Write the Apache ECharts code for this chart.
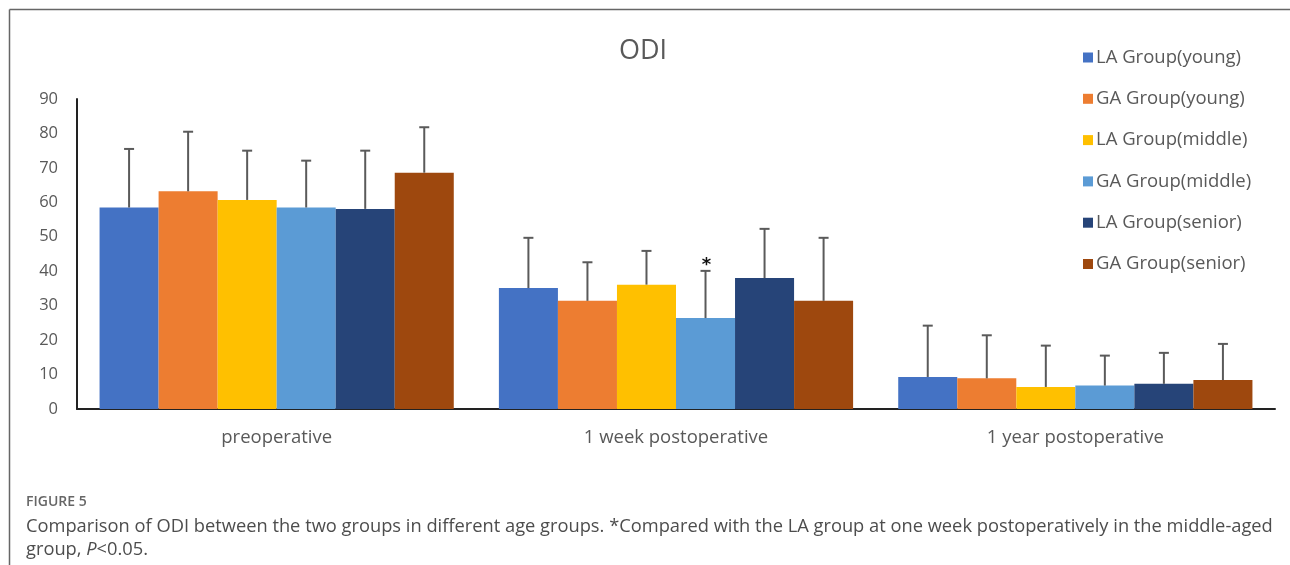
<!DOCTYPE html>
<html>
<head>
<meta charset="utf-8">
<script src="https://cdn.jsdelivr.net/npm/echarts@6/dist/echarts.min.js"></script>
<style>
html,body{margin:0;padding:0;background:#fff;}
#chart{width:1290px;height:565px;}
</style>
</head>
<body>
<div id="chart"></div>
<script>
const categories = ['preoperative', '1 week postoperative', '1 year postoperative'];
const seriesNames = ['LA Group(young)', 'GA Group(young)', 'LA Group(middle)', 'GA Group(middle)', 'LA Group(senior)', 'GA Group(senior)'];
const seriesColors = ['#4472C4', '#ED7D31', '#FFC000', '#5B9BD5', '#264478', '#9E480E'];
// mean ODI per series, for each category
const laYoung   = [58.5, 35.1, 9.3];
const gaYoung   = [63.2, 31.4, 8.9];
const laMiddle  = [60.7, 36.1, 6.4];
const gaMiddle  = [58.5, 26.4, 6.8];
const laSenior  = [58.1, 38.0, 7.3];
const gaSenior  = [68.6, 31.4, 8.4];
// standard deviations (upper error bars)
const laYoungSD  = [17.0, 14.6, 14.9];
const gaYoungSD  = [17.3, 11.2, 12.5];
const laMiddleSD = [14.3, 9.8, 12.0];
const gaMiddleSD = [13.6, 13.7, 8.7];
const laSeniorSD = [16.9, 14.3, 9.0];
const gaSeniorSD = [13.2, 18.3, 10.5];
// significance marker: series index, category index, text
const sigSeries = [3];
const sigCategory = [1];
const sigText = ['*'];
const yTicks = [0, 10, 20, 30, 40, 50, 60, 70, 80, 90];

const means = [laYoung, gaYoung, laMiddle, gaMiddle, laSenior, gaSenior];
const sds = [laYoungSD, gaYoungSD, laMiddleSD, gaMiddleSD, laSeniorSD, gaSeniorSD];

const GAP = 0.113;
const NS = seriesNames.length;

const errData = [];
for (let s = 0; s < NS; s++) {
  for (let c = 0; c < categories.length; c++) {
    let mark = '';
    for (let k = 0; k < sigSeries.length; k++) {
      if (sigSeries[k] === s && sigCategory[k] === c) mark = sigText[k];
    }
    errData.push({ value: [c, s, means[s][c], sds[s][c]], mark: mark });
  }
}

const chart = echarts.init(document.getElementById('chart'), null, { renderer: 'canvas' });

const barSeries = seriesNames.map((name, i) => ({
  name: name,
  type: 'bar',
  data: means[i],
  barGap: '0%',
  barCategoryGap: (GAP * 100) + '%',
  itemStyle: { color: seriesColors[i] },
  emphasis: { disabled: true },
  z: 2
}));

const errSeries = {
  type: 'custom',
  name: 'err',
  data: errData,
  z: 5,
  silent: true,
  renderItem: function (params, api) {
    const c = api.value(0), s = api.value(1), m = api.value(2), e = api.value(3);
    const band = api.size([1, 0])[0];
    const bw = band * (1 - GAP) / NS;
    const cx = api.coord([c, 0])[0] - band * (1 - GAP) / 2 + (s + 0.5) * bw;
    const yb = api.coord([c, m])[1];
    const yt = api.coord([c, m + e])[1];
    const st = { stroke: '#5a5a5a', lineWidth: 2 };
    const children = [
      { type: 'line', shape: { x1: cx, y1: yb, x2: cx, y2: yt }, style: st },
      { type: 'line', shape: { x1: cx - 5, y1: yt, x2: cx + 5, y2: yt }, style: st }
    ];
    const mark = errData[params.dataIndex].mark;
    if (mark) {
      children.push({
        type: 'text',
        style: { text: mark, x: cx + 1, y: yt + 3, align: 'center', verticalAlign: 'bottom',
                 font: 'bold 18px "DejaVu Sans"', fill: '#111' }
      });
    }
    return { type: 'group', children: children };
  }
};

chart.setOption({
  animation: false,
  backgroundColor: '#fff',
  title: {
    text: 'ODI',
    left: 638,
    top: 33,
    textAlign: 'center',
    textStyle: { fontFamily: 'Open Sans', fontSize: 27, fontWeight: 'normal', color: '#595959' }
  },
  legend: {
    data: seriesNames,
    orient: 'vertical',
    left: 1078,
    top: 43,
    itemWidth: 10,
    itemHeight: 10,
    itemGap: 22.3,
    icon: 'rect',
    selectedMode: false,
    textStyle: { fontFamily: 'Open Sans', fontSize: 18.5, color: '#595959', padding: [0, 0, 0, -2] }
  },
  grid: { left: 77, right: 15, top: 99, bottom: 156, containLabel: false },
  xAxis: {
    type: 'category',
    data: categories,
    axisLine: { show: true, lineStyle: { color: '#222', width: 2 } },
    axisTick: { show: false },
    axisLabel: { margin: 19, fontFamily: 'Open Sans', fontSize: 18.5, color: '#595959' }
  },
  yAxis: {
    type: 'value',
    min: yTicks[0],
    max: yTicks[yTicks.length - 1],
    interval: yTicks[1] - yTicks[0],
    axisLine: { show: true, lineStyle: { color: '#222', width: 2 } },
    axisTick: { show: false },
    splitLine: { show: false },
    axisLabel: { margin: 19, fontFamily: 'Open Sans', fontSize: 16.5, color: '#595959' }
  },
  graphic: [
    { type: 'line', shape: { x1: 9.5, y1: 9.5, x2: 1290, y2: 9.5 }, style: { stroke: '#666', lineWidth: 1.5 } },
    { type: 'line', shape: { x1: 9.5, y1: 9.5, x2: 9.5, y2: 565 }, style: { stroke: '#666', lineWidth: 1.5 } },
    { type: 'text', style: { text: 'FIGURE 5', x: 26, y: 502, verticalAlign: 'middle',
      font: '600 14px "Open Sans"', fill: '#666' } },
    { type: 'text', style: { text: 'Comparison of ODI between the two groups in different age groups. *Compared with the LA group at one week postoperatively in the middle-aged',
      x: 26, y: 527, verticalAlign: 'middle', font: '18.3px "Open Sans"', fill: '#4d4d4d' } },
    { type: 'text', style: { text: '{n|group, }{i|P}{n|<0.05.}', x: 26, y: 550, verticalAlign: 'middle',
      rich: { n: { font: '18.3px "Open Sans"', fill: '#4d4d4d' }, i: { font: 'italic 18.3px "Open Sans"', fill: '#4d4d4d' } } } }
  ],
  series: barSeries.concat([errSeries])
});
</script>
</body>
</html>
